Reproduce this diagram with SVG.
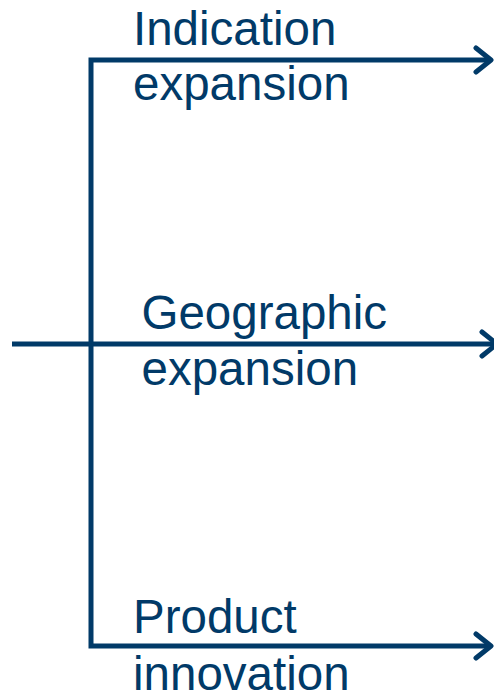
<svg xmlns="http://www.w3.org/2000/svg" width="494" height="693" viewBox="0 0 494 693">
<style>
.ln{fill:none;stroke:#013a68;stroke-width:5;stroke-linejoin:miter;stroke-linecap:butt}
.ah{fill:none;stroke:#013a68;stroke-width:5;stroke-linejoin:round;stroke-linecap:round}
.t{font-family:"Liberation Sans",Arial,sans-serif;font-size:47.5px;fill:#013a68}
</style>
<g id="connectors">
<path class="ln" d="M489 60 H91 V646 H489"/>
<path class="ln" d="M12 344 H496"/>
<path class="ah" d="M476 48 L491 60 L476 72"/>
<path class="ah" d="M482 332 L497 344 L482 356"/>
<path class="ah" d="M476 634 L491 646 L476 658"/>
</g>
<g id="indication">
<text class="t" x="133" y="45">Indication</text>
<text class="t" x="133" y="100">expansion</text>
</g>
<g id="geographic">
<text class="t" x="141.5" y="329">Geographic</text>
<text class="t" x="141.5" y="385">expansion</text>
</g>
<g id="product">
<text class="t" x="133" y="633">Product</text>
<text class="t" x="133" y="690">innovation</text>
</g>
</svg>
